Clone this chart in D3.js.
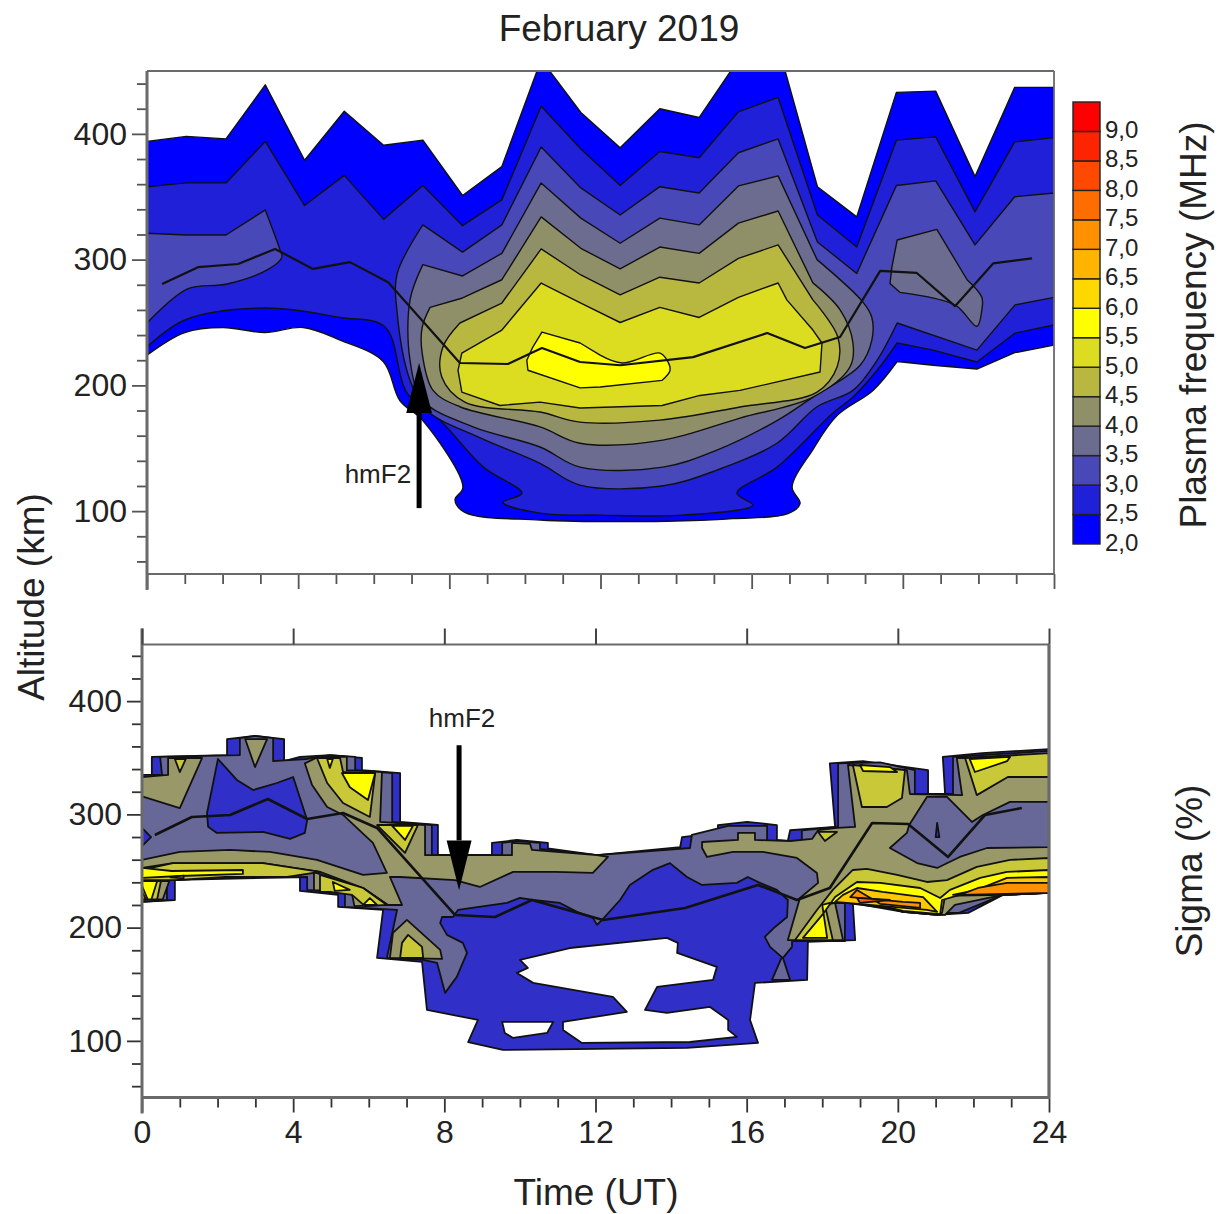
<!DOCTYPE html>
<html><head><meta charset="utf-8">
<script src="https://cdn.jsdelivr.net/npm/d3@7"></script>
<style>html,body{margin:0;background:#fff}svg{display:block}text{font-family:"Liberation Sans",Arial,sans-serif;fill:#222}</style>
</head><body><svg id="c" width="1225" height="1214"></svg>
<script>
// ---- Legend ----
const legendLevels=[2,2.5,3,3.5,4,4.5,5,5.5,6,6.5,7,7.5,8,8.5,9];
const legendLabels=["2,0","2,5","3,0","3,5","4,0","4,5","5,0","5,5","6,0","6,5","7,0","7,5","8,0","8,5","9,0"];
const legendColors=["#0000ff","#2020d8","#4848b8","#6c6c90","#909068","#b8b840","#dcdc20","#ffff00","#ffd800","#ffb400","#ff9000","#ff6c00","#ff4800","#ff2400","#ff0000"];
// ---- Sigma palette ----
const sBlue="#3030c8",sSlate="#686898",sOlive="#989868",sKhaki="#c8c838",sYellow="#ffff00",sGold="#ffc800",sOrange="#ff9000",sDeep="#ff6000";
// ---- Axis ticks ----
const timeMajor=[0,4,8,12,16,20,24];
const timeMinor=d3.range(0,25).filter(d=>d%4!==0);
const altMajor=[100,200,300,400];
const altMinor=d3.range(60,450,20).filter(d=>d%100!==0);

// ---- Plasma frequency contours: [time UT, altitude km] ----
const f20=[[0,394],[1.04,398],[2.09,396],[3.13,439],[4.17,379],[5.22,418],[6.26,391],[7.30,395],[8.35,351],[9.39,374],[10.43,459],[11.48,417],[12.52,389],[13.57,420],[14.61,413],[15.65,459],[16.70,470],[17.74,358],[18.78,334],[19.83,433],[20.87,434],[21.91,366],[22.96,437],[24,437],[24,232],[22.96,226],[21.96,213],[20.8,216],[19.85,219],[19.21,196],[18.26,176],[17.62,149],[17.07,119],[17.28,106],[16.96,98],[15.51,94],[13.76,92],[10.4,93],[8.41,99],[8.15,109],[8.36,119],[7.3,172],[6.69,188],[6.25,219],[5.11,236],[4.13,246],[3.12,242],[2.01,246],[1.0,242],[0,224]];
const f25=[[0,358],[1.04,361],[2.09,361],[3.13,394],[4.17,343],[5.22,367],[6.26,332],[7.30,359],[8.35,327],[9.39,347.5],[10.43,422],[11.48,388],[12.52,359],[13.57,386],[14.61,381],[15.65,417.5],[16.70,429],[17.74,335.5],[18.78,310],[19.83,395],[20.87,397.6],[21.91,338],[22.96,393.6],[24,397],[24,248],[22.97,241.6],[21.96,218.6],[20.8,228],[19.85,233.7],[19.32,212],[18.68,190.7],[18.15,178],[16.67,135],[15.61,114.3],[16.03,104.8],[14.18,96.8],[11.99,96.8],[10.4,98.4],[9.42,107],[9.92,114.3],[8.9,135],[7.75,172.4],[6.88,194],[6.3,246.4],[5.11,254],[3.12,261.5],[1.0,252],[0,230.5]];
const f30a=[[0,321],[1.04,319.6],[2.09,319.6],[3.13,339.5],[3.52,307.7],[3.57,302],[3.25,293],[2.12,280.6],[1.06,276.6],[0,249.6]];
const f30b=[[7.30,327.6],[6.62,289],[6.62,257.5],[6.96,204],[7.41,180],[8.76,159],[10.4,138],[11.46,120.7],[13.63,120],[15.08,132.6],[16.67,154],[17.73,183],[18.68,196],[19.32,220],[19.85,249.6],[21.96,228],[22.97,264],[24,270],[24,353],[22.96,350],[21.91,311.7],[20.87,362.6],[19.83,359],[18.78,289],[17.74,314],[16.70,396],[15.65,385],[14.61,353],[13.57,358],[12.52,335.5],[11.48,357],[10.43,389.6],[9.39,327.6],[8.35,306]];
const f35a=[[7.30,296],[6.96,268],[6.96,220],[7.3,188],[8.63,167],[10.4,151],[11.46,135],[13.65,135],[15.08,148.5],[16.67,172],[17.62,190.7],[18.87,216],[19.18,236],[19.18,254],[18.95,266],[17.73,300],[16.70,366.6],[15.65,358.6],[14.61,327.6],[13.57,333],[12.52,313],[11.48,333],[10.43,361],[9.39,305],[8.35,287]];
const f35b=[[19.85,315.6],[20.9,324],[21.7,284],[22.09,270],[22.09,260],[21.96,247],[21.38,264],[19.92,274],[19.66,281],[19.71,294]];
const f40=[[7.49,262],[7.28,246],[7.28,226],[7.57,196],[8.28,183],[10.4,167],[11.46,154],[13.65,156.5],[15.69,174],[17.62,190.7],[18.6,214.6],[18.68,233.7],[18.34,260],[17.62,281.5],[16.70,338.7],[15.65,329],[14.61,305],[13.57,310],[12.52,292.6],[11.48,309],[10.43,334],[9.39,284],[8.35,269.5]];
const f45=[[8.28,249.6],[7.83,230.5],[7.8,206.6],[8.41,186.7],[10.4,178.8],[11.46,170.8],[13.57,172.4],[15.69,182.8],[17.73,194.7],[18.26,214.6],[18.28,238.5],[17.62,268],[16.70,311.7],[15.65,301],[14.61,281.4],[13.57,286],[12.52,272],[11.48,287.8],[10.43,308.5],[9.39,265.5]];
const f50=[[8.33,225.7],[8.23,212],[8.33,194.7],[9.34,184],[10.4,186.7],[11.46,182],[13.63,184],[14.63,192],[15.69,196],[17.81,210.6],[17.86,233.7],[17.62,244],[16.93,268],[16.70,281.4],[15.65,270],[14.61,254],[13.57,262],[12.52,250],[11.48,265.5],[10.43,281.4],[9.39,244]];
const f55=[[10.45,242.4],[10.21,230.5],[10.05,220],[10.08,212],[11.46,198],[11.99,198.7],[13.63,204],[13.84,212],[13.76,220],[13.57,225.7],[12.57,217.8],[11.99,224],[11.46,233.7]];
const hmF2Top=[[0.4,280.6],[1.35,294],[2.41,296.5],[3.39,308.5],[4.39,292.6],[5.37,298],[6.38,282],[8.28,217.8],[9.55,217],[10.45,229.7],[11.46,218.6],[12.52,216],[14.45,222.5],[16.41,241.6],[17.41,229.7],[18.34,238.5],[19.4,291],[20.37,289.4],[21.38,263],[22.39,297],[23.42,301]];
const arrowTop={t:7.2,tail:102.4,base:178,tip:217.8,halfT:0.34};

// ---- Sigma contours ----
const sBase=[[0,333],[.26,334.8],[.26,350.7],[2.25,352.4],[2.25,366.5],[2.99,369.2],[3.76,366.5],[3.76,347],[4.18,350.7],[4.97,352.4],[5.82,349.8],[5.82,339],[6.83,336.5],[6.83,293.3],[7.83,290.6],[7.83,264],[9.26,264],[9.26,274.8],[9.92,277.4],[10.74,274.8],[10.74,270],[12.04,264],[14.24,271],[14.29,280],[15.24,283.6],[15.24,290.6],[16.01,293.3],[16.8,290.6],[16.8,277.4],[17.09,276.5],[17.15,286],[18.34,289],[18.2,345],[19.08,347],[20.8,339],[20.8,318],[21.25,318],[21.19,350.7],[22.23,354],[24,357.7],[24,230.6],[22.78,228.9],[21.86,213],[21.04,211.2],[20.14,213.9],[19.08,220],[18.81,221.8],[18.87,189],[17.62,187.4],[17.6,153.8],[16.22,151.2],[16.09,118.5],[16.3,98.2],[14.42,93.8],[9.55,92],[8.63,99],[8.89,118.5],[7.54,127.4],[7.41,169.7],[6.22,173.3],[6.38,215.6],[5.19,218.3],[5.19,228.9],[4.18,232.4],[4.18,244.7],[2.2,244.7],[.87,242],[.87,224.4],[0,222.7]];
const sHoleBig=[[10,171.5],[11.32,182],[13.89,190.9],[14.18,186.5],[14.16,177.7],[15.21,165.3],[15.11,153.8],[13.63,147.7],[13.31,127.4],[13.89,124.7],[15.03,130],[15.51,118.5],[15.51,109.7],[15.74,103.5],[14.5,99],[11.64,98.2],[11.14,109.7],[11.14,116.8],[12.83,125.6],[12.46,138.8],[10.35,151.2],[9.92,160],[10.21,164.4]];
const sHoleSmall=[[9.53,116.8],[10.88,116.8],[10.72,107],[9.82,102.6],[9.6,107]];
const sSlateMain=[[0,334.8],[.53,334.8],[.48,350.7],[2.59,352.4],[2.59,367.4],[2.99,369.2],[3.47,367.4],[3.47,347],[4.34,348.9],[4.97,352.4],[5.64,350.7],[5.64,339],[6.62,336.5],[6.62,293.3],[7.67,290.6],[7.67,264],[9.53,264],[9.53,274.8],[9.92,276.5],[10.53,274.8],[10.53,269.5],[12.04,264],[14.5,270.3],[14.55,281.8],[15.51,289.8],[16.54,289.8],[16.54,275.6],[17.46,276.5],[17.46,286],[18.42,289],[18.42,345],[19.53,346],[20.45,339],[20.45,318],[21.46,318],[21.46,350.7],[24,356],[24,230.6],[22.78,228.9],[21.62,213],[21.04,213],[20.14,215.6],[18.6,221.8],[18.6,188],[17.2,188],[17.2,183],[16.96,173.3],[17.15,153.8],[16.67,153.8],[16.93,174],[16.62,183],[16.48,191.8],[16.75,200.6],[17.07,209.4],[17.09,224.4],[16.8,233.3],[16.35,239.5],[16.03,244.7],[15.74,239.5],[14.82,237.7],[14.42,244.7],[13.97,257],[13.52,251],[12.91,237.7],[12.65,224.4],[12.2,207.7],[12.04,202.4],[11.93,208.6],[11.51,213.9],[11.06,221.8],[10.35,224.4],[10,226.2],[9.66,221.8],[8.36,215.6],[8.23,209.4],[7.94,209.4],[7.89,204],[8.07,193.6],[8.49,186.5],[8.6,177.7],[8.33,156.5],[8.02,142.4],[7.81,168.8],[7.44,171.5],[6.48,173.3],[6.75,215.6],[5.37,218.3],[5.37,230.6],[4.37,233.3],[4.37,244.7],[.66,242],[.66,224.4],[0,222.7]];
const sLobeA=[[2.01,348.9],[1.72,301],[1.75,289],[1.98,283.6],[3.2,284.5],[3.92,278.3],[4.31,283.6],[4.37,295],[4,333],[3.57,327.7],[2.94,321.5],[2.51,330.4]];
const sLobeB=[[0,288],[.24,280],[0,272]];
const sMark=[[21.04,292.4],[21.1,280],[21,280]];
const oliveA=[[0,333],[.69,334.8],[.69,349.8],[1.59,349.8],[1,305.6],[0,316]];
const oliveB=[[2.73,366.5],[3.31,366.5],[2.99,341.8]];
const oliveC=[[0,259.8],[1,266.8],[2.33,268.6],[3.39,266.8],[4.63,259.8],[5.85,246.5],[6.48,248.3],[6.11,274.8],[5.32,299.5],[4.9,306.5],[4.5,326],[4.31,345],[4.66,350.7],[5.42,350.7],[5.42,339],[6.35,337.4],[6.3,293.3],[7.49,290.6],[7.49,264],[9.79,264],[9.79,274.8],[10.27,273.9],[10.32,268.6],[12.04,264],[12.33,262.4],[11.93,248.3],[10.93,249.2],[9.82,249.2],[8.94,235.9],[8.28,242],[6.83,244.7],[6.56,244.7],[6.88,220],[6.51,220],[5.85,235],[4.71,249.2],[3.2,257],[.82,257],[0,252.7]];
const oliveD=[[4.55,249],[5.85,235],[6.5,220],[5.62,219],[5.55,231],[4.55,233]];
const oliveE=[[7.01,206.8],[7.89,180.3],[7.94,172.4],[6.56,173.3],[6.64,195.3]];
const oliveStack=[[0,241],[.72,241],[.55,225],[0,225]];
const oliveRight=[[18.68,343.6],[20.24,339],[20.32,318],[21.7,317],[21.56,349.8],[21.78,349.8],[24,352.4],[24,230.6],[22.78,228.9],[21.51,220],[21.25,211.2],[21.04,211.2],[20.14,213.9],[19.26,221.8],[18.34,221.8],[18.55,189],[17.09,189],[17.41,226.2],[17.89,239.5],[17.86,248.3],[17.33,261.5],[16.43,266.8],[15.64,266.8],[14.95,262.4],[14.82,270.3],[14.82,275.6],[15.77,277.4],[15.77,283.6],[16.22,283.6],[16.22,277.4],[17.15,276.5],[17.73,278.3],[17.89,286],[18.39,288],[18.87,289]];
const slateRight=[[24,311],[22.97,311],[22.25,299.5],[21.96,293.3],[21.3,315.4],[20.77,315.4],[20.3,290.6],[20.24,283.6],[19.79,270.3],[20.51,257],[21.04,252.7],[21.64,262.4],[22.36,270.3],[24,271]];
const khakiPieces=[
 [[.87,348.9],[1.16,348.9],[1,337.4]],
 [[0,250.9],[.82,257],[3.2,257],[4.71,249.2],[3.84,244.7],[2.2,244.7],[.87,242],[0,242]],
 [[0,241],[.5,241],[.4,225],[0,225]],
 [[4.63,349.8],[5.24,349.8],[5.32,337.4],[6.17,336.5],[6.03,297.7],[5.32,310],[4.9,327.7]],
 [[6.22,290.6],[7.3,290.6],[6.96,266]],
 [[4.71,246.5],[5.85,235],[6.48,220],[5.9,219],[5.56,228.9],[4.97,231.5],[4.71,231.5]],
 [[7.04,193.6],[7.41,183],[7.44,173.3],[6.83,173.3],[6.88,186.5]],
 [[18.81,343.6],[20.19,339],[20.11,314.5],[19.71,306.5],[19.05,306.5]],
 [[21.78,349.8],[24,354],[24,333],[22.91,333],[22.09,317]],
 [[17.89,284.5],[18.39,284.5],[18.07,276.5]],
 [[24,261.5],[22.97,259.8],[22.09,253.6],[21.3,242],[20.77,240.3],[19.98,246.5],[19.18,251.8],[18.81,250.9],[18.28,233.3],[17.86,215.6],[17.28,189],[18.28,189],[18.07,220],[18.34,221.8],[19.26,221.8],[20.14,213.9],[21.04,211.2],[21.17,213],[21.25,228],[22.78,228.9],[24,230.6]]
];
const yellowPieces=[
 [[0,243.9],[0,252.7],[.79,250],[2.67,250.9],[2.67,247.4],[1,245.6]],
 [[0,241],[.4,241],[.25,225],[0,225]],
 [[5.29,336.5],[6.17,336.5],[5.98,312.7],[5.5,324]],
 [[4.9,348.9],[5.05,348.9],[4.97,341]],
 [[6.62,289.8],[7.17,289.8],[6.96,277.4]],
 [[5.05,240.3],[5.5,233.3],[5.1,232.4]],
 [[5.85,220],[6.03,226],[6.22,220]],
 [[19,343.6],[19.79,341.8],[19.98,337.4],[19.08,338.3]],
 [[21.9,348.9],[22.97,350.7],[22.89,347],[22.04,337.4]],
 [[24,250.9],[22.89,249.2],[22.18,243.9],[21.38,233.3],[21.12,226.2],[20.59,235],[19.53,239.5],[18.92,240.3],[18.34,227],[18,211.2],[17.49,190.9],[18.13,190.9],[18,220],[18.2,221.8],[19.26,221.8],[20.14,214.7],[21.12,212],[21.17,224.4],[21.64,228.9],[24,230.6]]
];
const goldPieces=[
 [[.75,244.5],[1.1,246],[1.1,243.5]],
 [[0,237],[.15,225],[0,225]],
 [[24,244.7],[22.89,243.9],[22.09,233.3],[21.46,228.9],[24,230.6]],
 [[18.92,235],[18.55,228.9],[18.34,222.7],[20.77,215.6],[21.04,213.9],[20.67,227],[19.6,231.5]]
];
const orangePieces=[
 [[0,232],[.1,225],[0,225]],
 [[24,239.5],[22.89,239.5],[22.12,235],[21.64,228.9],[24,230.6]],
 [[18.92,233.3],[18.74,227],[20.14,222.7],[20.59,221.8],[20.59,217.4],[19.53,221]]
];
const deepPieces=[[[18.92,226.2],[19.79,224.4],[19,221.8]]];
const hmF2Bottom=[[.34,281.8],[1.32,297.7],[2.33,299.5],[3.33,313.6],[4.37,295.9],[5.32,301.2],[6.22,288],[8.28,211.2],[9.34,209.4],[10.32,224.4],[12.2,206.8],[14.37,217.4],[16.3,237.7],[17.33,224.4],[18.2,235],[19.32,292.4],[20.27,291.5],[21.33,262.4],[22.31,299.5],[23.28,305.6]];
const arrowBottom={t:8.39,tail:361,base:277,tip:233,halfT:0.33};

// ---- Scales ----
const xTop=d3.scaleLinear([0,24],[147,1054]);
const yTop=d3.scaleLinear([50,450],[574,71]);
const xBot=d3.scaleLinear([0,24],[142,1049]);
const yBot=d3.scaleLinear([50,450],[1097.5,644.5]);
const yLeg=d3.scaleLinear([2,9.5],[544,102]);

const svg=d3.select("#c");
const defs=svg.append("defs");
defs.append("clipPath").attr("id","ct").append("rect").attr("x",147).attr("y",71).attr("width",907).attr("height",503);
defs.append("clipPath").attr("id","cb").append("rect").attr("x",142).attr("y",644.5).attr("width",907).attr("height",453);

// a polygon drawn with straight edges, except vertices a..b, which are joined by a smooth curve
function painter(g,x,y,sw){
  const ln=d3.line(d=>x(d[0]),d=>y(d[1]));
  const cv=d3.line(d=>x(d[0]),d=>y(d[1])).curve(d3.curveCatmullRom.alpha(0.5));
  return (poly,color,range)=>{
    let d;
    if(range){
      const [a,b]=range;
      const rest=poly.slice(b).concat(poly.slice(0,a+1));
      d=cv(poly.slice(a,b+1))+ln(rest).replace(/^M/,"L")+"Z";
    } else d=ln(poly)+"Z";
    return g.append("path").attr("d",d).attr("fill",color).attr("stroke","#111").attr("stroke-width",sw).attr("stroke-linejoin","round");
  };
}
function hmLine(g,x,y,data,w){
  g.append("path").attr("d",d3.line(d=>x(d[0]),d=>y(d[1]))(data)).attr("fill","none").attr("stroke","#111").attr("stroke-width",w).attr("stroke-linejoin","round");
}
function arrow(g,x,y,a){
  g.append("line").attr("x1",x(a.t)).attr("x2",x(a.t)).attr("y1",y(a.tail)).attr("y2",y(a.base)).attr("stroke","#000").attr("stroke-width",5);
  g.append("path").attr("d",d3.line(d=>x(d[0]),d=>y(d[1]))([[a.t,a.tip],[a.t-a.halfT,a.base],[a.t+a.halfT,a.base]])+"Z").attr("fill","#000");
}
function axes(x,y,opt){
  const [y0,y1]=y.range(), [x0,x1]=x.range();
  const left=svg.append("g").attr("transform",`translate(${x0},0)`);
  const mk=(g,ax)=>{g.call(ax);g.select(".domain").remove();g.selectAll("line").attr("stroke",opt.tick).attr("stroke-width",1.8);g.selectAll("text").attr("font-size",32).attr("fill","#222").style("font-family","'Liberation Sans',Arial,sans-serif");};
  mk(left.append("g"),d3.axisLeft(y).tickValues(altMinor).tickSize(10).tickFormat(""));
  mk(left.append("g"),d3.axisLeft(y).tickValues(altMajor).tickSize(15).tickPadding(5));
  const bot=svg.append("g").attr("transform",`translate(0,${y0})`);
  mk(bot.append("g"),d3.axisBottom(x).tickValues(timeMinor).tickSize(opt.minorX).tickFormat(""));
  mk(bot.append("g"),d3.axisBottom(x).tickValues(timeMajor).tickSize(15).tickPadding(opt.padX).tickFormat(opt.labels?d3.format("d"):""));
  const f=svg.append("g").attr("stroke","#6a6a6a").attr("fill","none");
  f.append("line").attr("x1",x0).attr("x2",x0).attr("y1",y1-opt.ext[0]).attr("y2",y0+16).attr("stroke-width",3);
  f.append("line").attr("x1",x0).attr("x2",x1+1).attr("y1",y0).attr("y2",y0).attr("stroke-width",opt.botW);
  f.append("line").attr("x1",x0).attr("x2",x1).attr("y1",y1).attr("y2",y1).attr("stroke-width",1.8);
  f.append("line").attr("x1",x1).attr("x2",x1).attr("y1",y1).attr("y2",y0).attr("stroke-width",opt.rightW);
}

// ---- Top panel ----
const gt=svg.append("g").attr("clip-path","url(#ct)");
const pt=painter(gt,xTop,yTop,1.4);
pt(f20,legendColors[0],[28,49]);
pt(f25,legendColors[1],[28,47]);
pt(f30a,legendColors[2],[3,9]);
pt(f30b,legendColors[2],[0,14]);
pt(f35a,legendColors[3],[0,15]);
pt(f35b,legendColors[3],[2,7]);
pt(f40,legendColors[4],[0,13]);
pt(f45,legendColors[5],[0,11]);
pt(f50,legendColors[6]);
pt(f55,legendColors[7],[6,11]);
hmLine(gt,xTop,yTop,hmF2Top,2.2);
arrow(gt,xTop,yTop,arrowTop);
axes(xTop,yTop,{tick:"#555",minorX:10,padX:5,labels:false,ext:[0],botW:2.2,rightW:1.8});
svg.append("text").attr("x",xTop(7.2)-8).attr("y",yTop(122)).attr("text-anchor","end").attr("font-size",26).text("hmF2");

// ---- Bottom panel ----
const gb=svg.append("g").attr("clip-path","url(#cb)");
const pb=painter(gb,xBot,yBot,1.8);
pb(sBase,sBlue);pb(sHoleBig,"#fff");pb(sHoleSmall,"#fff");
pb(sSlateMain,sSlate);pb(sLobeA,sBlue);pb(sLobeB,sBlue);
[oliveA,oliveB,oliveC,oliveD,oliveE,oliveStack,oliveRight].forEach(p=>pb(p,sOlive));
pb(slateRight,sSlate);pb(sMark,sBlue);
khakiPieces.forEach(p=>pb(p,sKhaki));
yellowPieces.forEach(p=>pb(p,sYellow));
goldPieces.forEach(p=>pb(p,sGold));
orangePieces.forEach(p=>pb(p,sOrange));
deepPieces.forEach(p=>pb(p,sDeep));
hmLine(gb,xBot,yBot,hmF2Bottom,2.6);
arrow(gb,xBot,yBot,arrowBottom);
axes(xBot,yBot,{tick:"#333",minorX:10,padX:8,labels:true,ext:[16],botW:3,rightW:3.2});
const upTop=svg.append("g").attr("transform",`translate(0,${yBot(450)})`);
upTop.call(d3.axisTop(xBot).tickValues(timeMajor).tickSize(16).tickFormat(""));
upTop.select(".domain").remove();
upTop.selectAll("line").attr("stroke","#444").attr("stroke-width",2);
svg.append("text").attr("x",xBot(8.47)).attr("y",yBot(377)).attr("text-anchor","middle").attr("font-size",26).text("hmF2");

// ---- Legend ----
const leg=svg.append("g");
leg.selectAll("rect").data(legendLevels).join("rect")
  .attr("x",1073).attr("width",27)
  .attr("y",d=>yLeg(d+0.5)).attr("height",d=>yLeg(d)-yLeg(d+0.5))
  .attr("fill",(d,i)=>legendColors[i]).attr("stroke","#222").attr("stroke-width",1.4);
leg.selectAll("text").data(legendLevels).join("text")
  .attr("x",1105).attr("y",d=>yLeg(d)+6.5).attr("font-size",24).text((d,i)=>legendLabels[i]);

// ---- Titles ----
const label=(t,x,y,rot)=>svg.append("text").attr("transform",`translate(${x},${y})`+(rot?" rotate(-90)":"")).attr("text-anchor","middle").attr("font-size",37).text(t);
label("February 2019",619,41);
label("Altitude (km)",44,597,true);
label("Plasma frequency (MHz)",1206,325,true);
label("Sigma (%)",1202,871,true);
label("Time (UT)",596,1205);
</script></body></html>
